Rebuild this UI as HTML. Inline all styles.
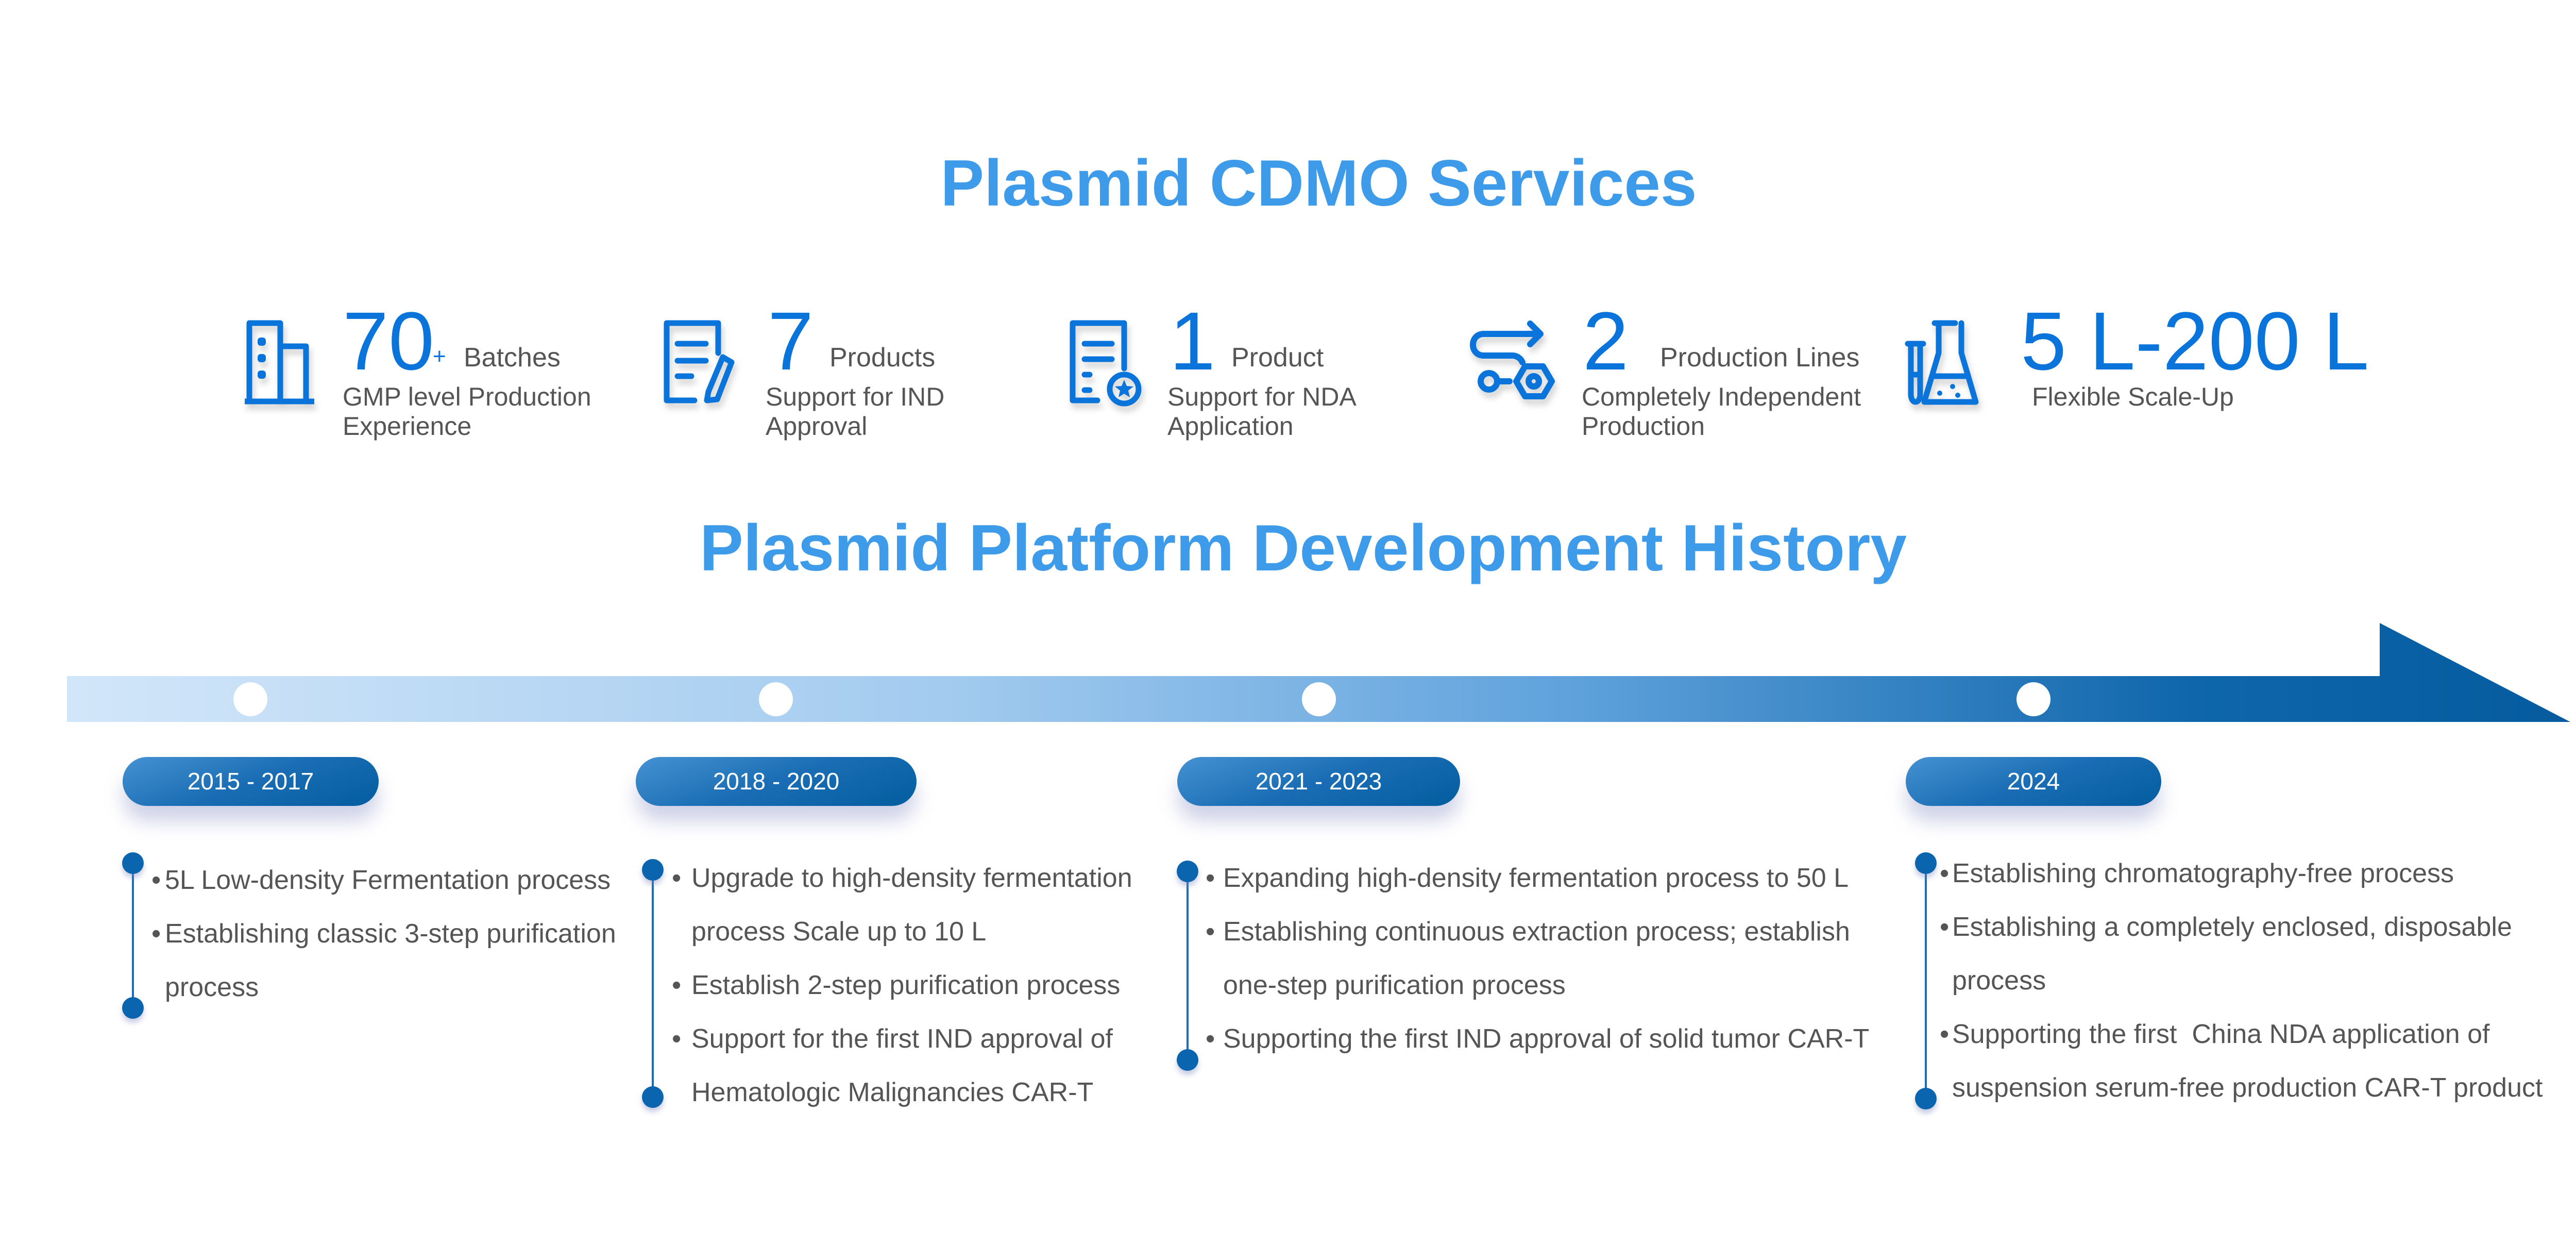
<!DOCTYPE html>
<html><head><meta charset="utf-8">
<style>
body{margin:0;width:5119px;height:2418px;background:#fff;position:relative;overflow:hidden;font-family:"Liberation Sans",sans-serif;}
.a{position:absolute;white-space:nowrap;line-height:1;}
.title{font-weight:bold;color:#3d9be9;font-size:127px;left:0;width:5119px;text-align:center;}
.num{color:#0a74da;font-size:160px;}
.lab{color:#555;font-size:52px;}
.desc{color:#555;font-size:50px;line-height:57px;}
.pill{position:absolute;height:95px;border-radius:48px;background:linear-gradient(160deg,#4592d2 0%,#1a6db4 50%,#035d9f 100%);color:#fff;font-size:46px;line-height:95px;text-align:center;box-shadow:0 30px 35px rgba(120,130,190,0.35);}
.vl{position:absolute;width:4px;background:#1d6fb5;}
.dot{position:absolute;width:42px;height:42px;border-radius:50%;background:#0b64ae;box-shadow:0 8px 10px rgba(120,130,190,0.4);}
.tl{position:absolute;color:#555;font-size:52px;line-height:104px;}
.tl div{white-space:nowrap;position:relative;}
.tl b{position:absolute;font-weight:normal;}
.wc{position:absolute;width:66px;height:66px;border-radius:50%;background:#fff;top:1324px;}
svg.ic{position:absolute;filter:drop-shadow(4px 10px 6px rgba(0,0,0,0.18));}
</style></head><body>

<div class="a title" style="top:292px;">Plasmid CDMO Services</div>

<!-- Icon 1 building -->
<svg class="ic" style="left:470px;top:615px" width="165" height="175" viewBox="0 0 165 175">
<g fill="none" stroke="#0a74da" stroke-width="11" stroke-linejoin="round">
<rect x="14" y="12" width="60" height="152"/>
<rect x="74" y="57" width="50" height="107"/>
<line x1="5" y1="164" x2="140" y2="164"/>
</g>
<g fill="#0a74da"><rect x="30" y="40" width="16" height="16" rx="6"/><rect x="30" y="72" width="16" height="16" rx="6"/><rect x="30" y="104" width="16" height="16" rx="6"/></g>
</svg>

<!-- Icon 2 doc pencil -->
<svg class="ic" style="left:1280px;top:615px" width="170" height="175" viewBox="0 0 170 175">
<g fill="none" stroke="#0a74da" stroke-width="11" stroke-linejoin="round" stroke-linecap="round">
<path d="M68 162 H14 V12 H114 V70"/>
<line x1="35" y1="52" x2="90" y2="52"/><line x1="35" y1="85" x2="90" y2="85"/><line x1="35" y1="115" x2="62" y2="115"/>
<path d="M123 78 L140 88 L112 160 L92 162 L95 145 Z"/>
</g></svg>

<!-- Icon 3 doc badge -->
<svg class="ic" style="left:2070px;top:615px" width="170" height="175" viewBox="0 0 170 175">
<g fill="none" stroke="#0a74da" stroke-width="11" stroke-linejoin="round" stroke-linecap="round">
<path d="M60 162 H12 V12 H112 V100"/>
<line x1="35" y1="52" x2="88" y2="52"/><line x1="35" y1="82" x2="88" y2="82"/><line x1="35" y1="112" x2="45" y2="112"/><line x1="35" y1="142" x2="45" y2="142"/>
<circle cx="112" cy="140" r="28"/>
</g>
<polygon fill="#0a74da" points="112,122 117,134 130,135 120,143 123,156 112,149 101,156 104,143 94,135 107,134"/>
</svg>

<!-- Icon 4 flow -->
<svg class="ic" style="left:2840px;top:600px" width="200" height="200" viewBox="0 0 200 200">
<g fill="none" stroke="#0a74da" stroke-width="12" stroke-linejoin="round" stroke-linecap="round">
<path d="M148 48 H40 C12 48 12 90 40 90 H95 C105 90 112 96 115 103"/>
<path d="M130 28 L150 48 L130 68"/>
<circle cx="50" cy="140" r="16"/><line x1="66" y1="140" x2="90" y2="140"/>
<polygon points="103,140 120,111 155,111 172,140 155,169 120,169"/>
<circle cx="137" cy="140" r="10"/>
</g></svg>

<!-- Icon 5 flasks -->
<svg class="ic" style="left:3695px;top:615px" width="175" height="180" viewBox="0 0 175 180">
<g fill="none" stroke="#0a74da" stroke-width="11" stroke-linejoin="round" stroke-linecap="round">
<path d="M8 52 H38 M14 52 V150 C14 170 32 170 32 150 V52"/>
<line x1="14" y1="112" x2="32" y2="112"/>
<path d="M60 12 H100 M68 12 V70 L40 165 H140 L112 70 V12"/>
<line x1="56" y1="115" x2="124" y2="115"/>
</g>
<g fill="#0a74da"><circle cx="95" cy="135" r="5"/><circle cx="70" cy="148" r="5"/><circle cx="105" cy="152" r="5"/></g>
</svg>

<!-- Stats -->
<div class="a num" style="left:665px;top:582px;">70</div>
<div class="a" style="left:840px;top:670px;color:#0a74da;font-size:44px;">+</div>
<div class="a lab" style="left:900px;top:668px;">Batches</div>
<div class="a desc" style="left:665px;top:742px;">GMP level Production<br>Experience</div>

<div class="a num" style="left:1490px;top:582px;">7</div>
<div class="a lab" style="left:1610px;top:668px;">Products</div>
<div class="a desc" style="left:1486px;top:742px;">Support for IND<br>Approval</div>

<div class="a num" style="left:2270px;top:582px;">1</div>
<div class="a lab" style="left:2390px;top:668px;">Product</div>
<div class="a desc" style="left:2266px;top:742px;">Support for NDA<br>Application</div>

<div class="a num" style="left:3072px;top:582px;">2</div>
<div class="a lab" style="left:3222px;top:668px;">Production Lines</div>
<div class="a desc" style="left:3070px;top:742px;">Completely Independent<br>Production</div>

<div class="a num" style="left:3922px;top:582px;">5 L-200 L</div>
<div class="a desc" style="left:3944px;top:742px;">Flexible Scale-Up</div>

<div class="a title" style="top:1000px;left:-30px;">Plasmid Platform Development History</div>

<!-- Arrow -->
<svg style="position:absolute;left:0;top:0" width="5119" height="1420">
<defs><linearGradient id="g" x1="130" y1="0" x2="4989" y2="0" gradientUnits="userSpaceOnUse">
<stop offset="0" stop-color="#d2e6f9"/><stop offset="0.35" stop-color="#a3cbef"/><stop offset="0.6" stop-color="#5fa2dc"/><stop offset="0.85" stop-color="#0f66ab"/><stop offset="1" stop-color="#055b9e"/></linearGradient></defs>
<polygon fill="url(#g)" points="130,1312 4619,1312 4619,1209 4989,1401 130,1401"/>
</svg>
<div class="wc" style="left:453px"></div>
<div class="wc" style="left:1473px"></div>
<div class="wc" style="left:2527px"></div>
<div class="wc" style="left:3914px"></div>

<!-- Pills -->
<div class="pill" style="left:238px;top:1469px;width:497px;">2015 - 2017</div>
<div class="pill" style="left:1234px;top:1469px;width:545px;">2018 - 2020</div>
<div class="pill" style="left:2285px;top:1469px;width:549px;">2021 - 2023</div>
<div class="pill" style="left:3699px;top:1469px;width:496px;">2024</div>

<!-- Column lines/dots -->
<div class="vl" style="left:256px;top:1675px;height:281px;"></div>
<div class="dot" style="left:237px;top:1654px;"></div><div class="dot" style="left:237px;top:1935px;"></div>
<div class="vl" style="left:1265px;top:1688px;height:441px;"></div>
<div class="dot" style="left:1246px;top:1667px;"></div><div class="dot" style="left:1246px;top:2108px;"></div>
<div class="vl" style="left:2303px;top:1691px;height:366px;"></div>
<div class="dot" style="left:2284px;top:1670px;"></div><div class="dot" style="left:2284px;top:2036px;"></div>
<div class="vl" style="left:3736px;top:1675px;height:457px;"></div>
<div class="dot" style="left:3717px;top:1654px;"></div><div class="dot" style="left:3717px;top:2111px;"></div>

<!-- Texts -->
<div class="tl" style="left:320px;top:1656px;">
<div><b style="left:-26px">•</b>5L Low-density Fermentation process</div>
<div><b style="left:-26px">•</b>Establishing classic 3-step purification</div>
<div>process</div></div>

<div class="tl" style="left:1342px;top:1652px;">
<div><b style="left:-38px">•</b>Upgrade to high-density fermentation</div>
<div>process Scale up to 10 L</div>
<div><b style="left:-38px">•</b>Establish 2-step purification process</div>
<div><b style="left:-38px">•</b>Support for the first IND approval of</div>
<div>Hematologic Malignancies CAR-T</div></div>

<div class="tl" style="left:2374px;top:1652px;">
<div><b style="left:-34px">•</b>Expanding high-density fermentation process to 50 L</div>
<div><b style="left:-34px">•</b>Establishing continuous extraction process; establish</div>
<div>one-step purification process</div>
<div><b style="left:-34px">•</b>Supporting the first IND approval of solid tumor CAR-T</div></div>

<div class="tl" style="left:3789px;top:1643px;">
<div><b style="left:-24px">•</b>Establishing chromatography-free process</div>
<div><b style="left:-24px">•</b>Establishing a completely enclosed, disposable</div>
<div>process</div>
<div><b style="left:-24px">•</b>Supporting the first&nbsp; China NDA application of</div>
<div>suspension serum-free production CAR-T product</div></div>

</body></html>
